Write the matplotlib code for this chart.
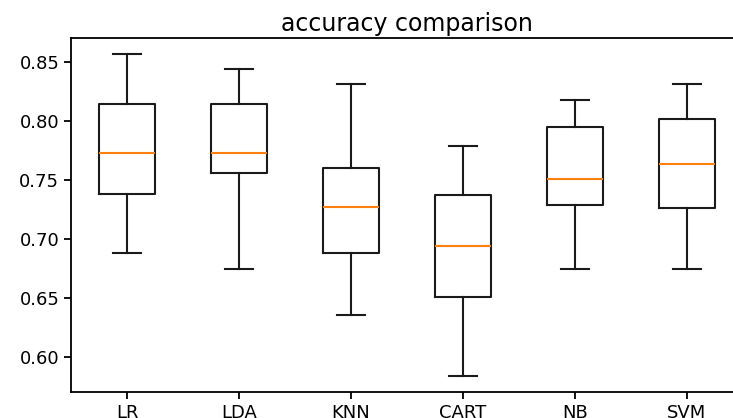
import matplotlib
matplotlib.use("Agg")
import matplotlib.pyplot as plt

# cross-validation accuracy summary per model
names = ['LR', 'LDA', 'KNN', 'CART', 'NB', 'SVM']
whisker_low = [0.688, 0.675, 0.636, 0.584, 0.675, 0.675]
q1 = [0.738, 0.756, 0.688, 0.651, 0.729, 0.726]
medians = [0.773, 0.773, 0.727, 0.694, 0.751, 0.764]
q3 = [0.814, 0.814, 0.760, 0.737, 0.795, 0.802]
whisker_high = [0.857, 0.844, 0.831, 0.779, 0.818, 0.831]

stats = []
for i, name in enumerate(names):
    stats.append({'label': name, 'whislo': whisker_low[i], 'q1': q1[i],
                  'med': medians[i], 'q3': q3[i], 'whishi': whisker_high[i],
                  'fliers': []})

fig = plt.figure(figsize=(7.33, 4.18), dpi=100)
ax = fig.add_axes([0.097, 0.062, 0.916, 0.848])

lw = 1.5
ax.bxp(stats, showfliers=False,
       boxprops=dict(linewidth=lw, color='#1a1a1a'),
       whiskerprops=dict(linewidth=lw, color='#1a1a1a'),
       capprops=dict(linewidth=lw, color='#1a1a1a'),
       medianprops=dict(linewidth=lw, color='#ff7f0e'))

ax.set_title('accuracy comparison', fontsize=17, pad=5)
ax.tick_params(labelsize=13, width=1.3, length=5)
for s in ax.spines.values():
    s.set_linewidth(1.3)
ax.margins(y=0.05)

fig.savefig('out.png', dpi=100)
